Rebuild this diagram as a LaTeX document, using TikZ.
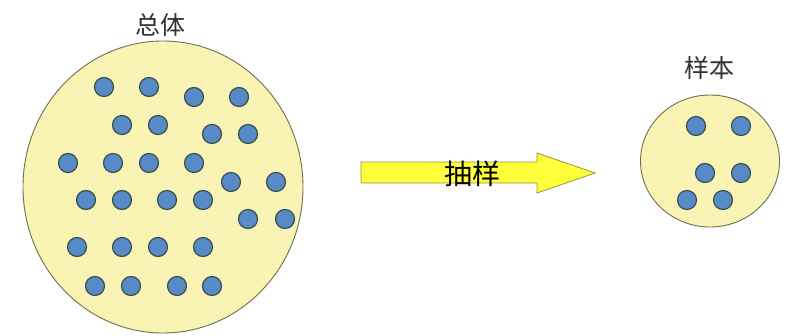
\documentclass[tikz,border=0pt]{standalone}
\usepackage{fontspec}
\newfontfamily\cjk{Noto Sans CJK SC}
\usetikzlibrary{shapes.geometric}
\definecolor{pale}{RGB}{250,244,180}
\definecolor{rimc}{RGB}{110,110,80}
\definecolor{dotc}{RGB}{88,138,200}
\definecolor{dotrim}{RGB}{55,80,80}
\definecolor{arrowc}{RGB}{255,255,60}
\definecolor{arrowrim}{RGB}{150,150,60}
\tikzset{
  dot/.style={circle,fill=dotc,draw=dotrim,line width=1.2pt,minimum size=19pt,inner sep=0pt},
  disc/.style={ellipse,fill=pale,draw=rimc,line width=0.9pt,inner sep=0pt},
  lab/.style={font=\cjk\fontsize{25}{28}\selectfont,text=black!80,inner sep=0pt}
}
\begin{document}
\begin{tikzpicture}[x=1pt,y=-1pt]
\useasboundingbox (0,0) rectangle (792,335);
\fill[white] (0,0) rectangle (792,335);
% population
\node[disc,minimum width=280pt,minimum height=292pt] (pop) at (163,187) {};
\node[lab] (popl) at (160,25) {总体};
\foreach \x/\y [count=\i] in {104/87,149/87,194/97,239/97,
  122/125,158/125,212/134,248/134,
  68/163,113/163,149/163,194/163,
  231/182,276/182,
  86/200,122/200,167/200,203/200,
  248/219,285/219,
  77/247,122/247,158/247,203/247,
  95/286,131/286,177/286,212/286}
  \node[dot] (p\i) at (\x,\y) {};
% arrow
\draw[fill=arrowc,draw=arrowrim,line width=0.8pt]
  (361,162) -- (537,162) -- (537,153) -- (595,173) -- (537,193) -- (537,183) -- (361,183) -- cycle;
\node[font=\cjk\fontsize{28}{30}\selectfont,inner sep=0pt] (arl) at (472,174) {抽样};
% sample
\node[disc,minimum width=139pt,minimum height=132pt] (smp) at (710,161) {};
\node[lab] (smpl) at (709,68) {样本};
\foreach \x/\y [count=\i] in {696/126,741/126,705/173,741/173,687/200,723/200}
  \node[dot] (s\i) at (\x,\y) {};
\end{tikzpicture}
\end{document}
